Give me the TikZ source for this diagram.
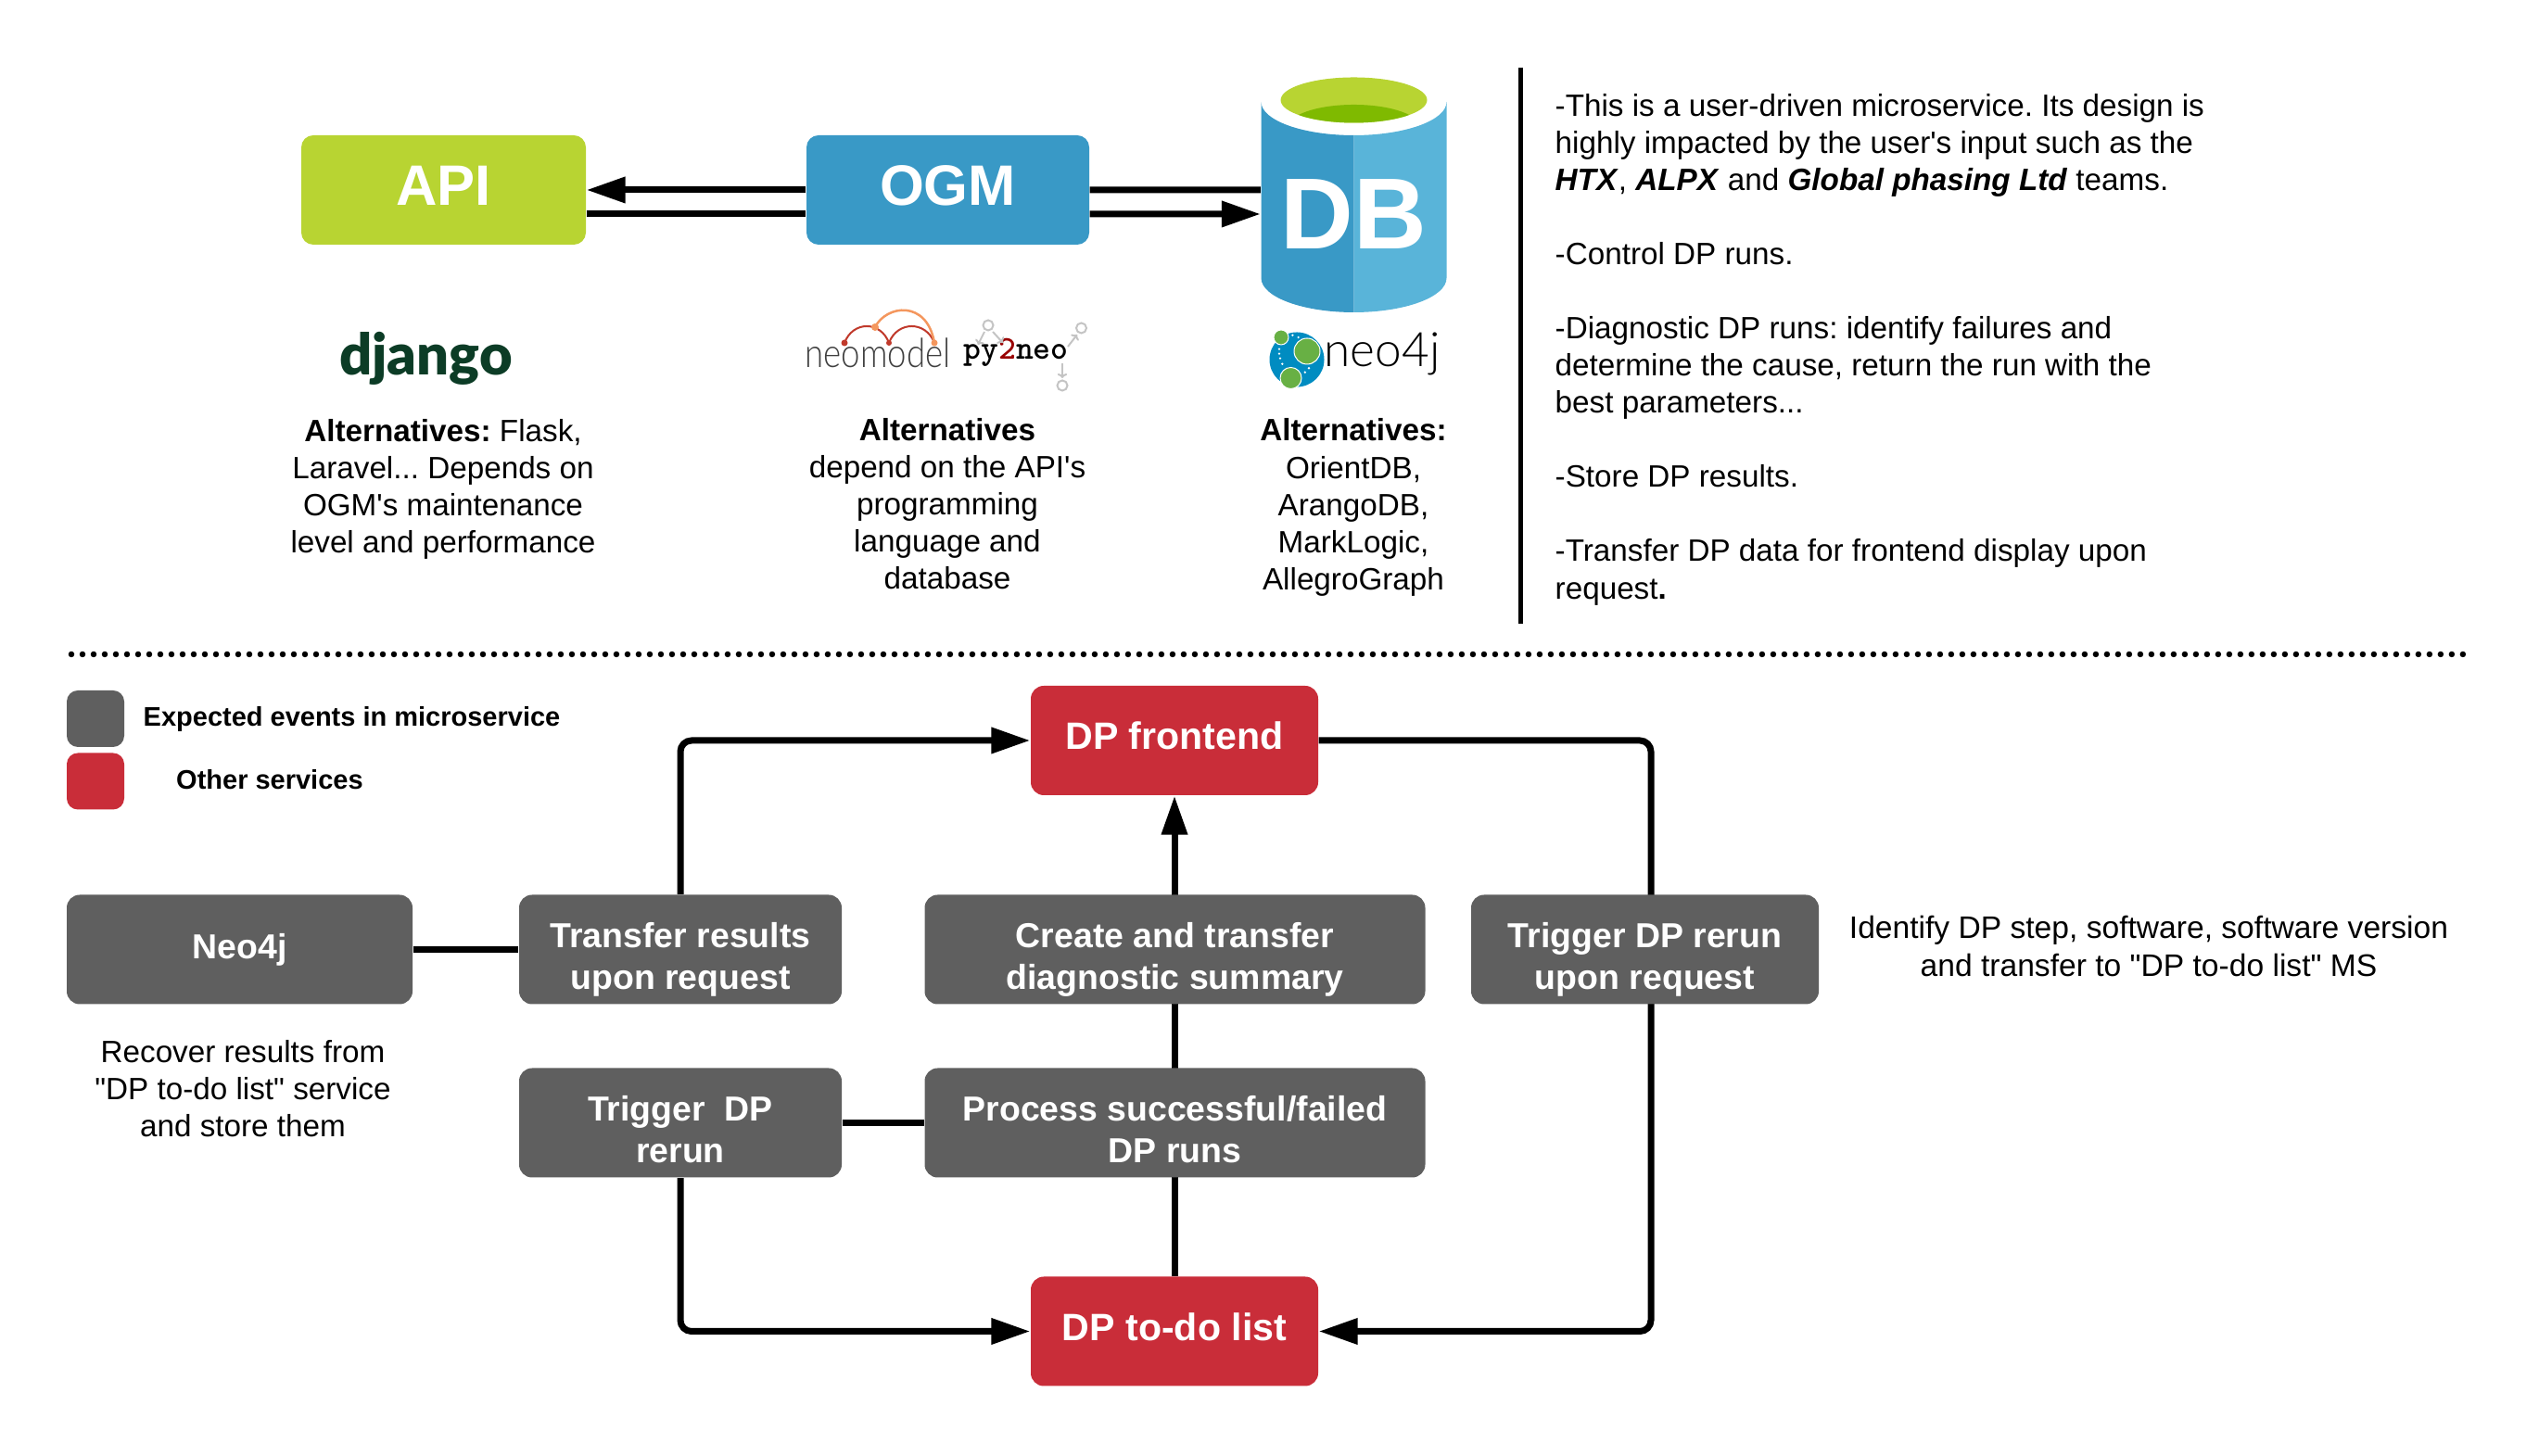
\documentclass[tikz,border=0pt]{standalone}
\usepackage{fontspec}
\setmainfont{Liberation Sans}
\frenchspacing
\newfontfamily\logofont{Lato}[UprightFont=* Black]
\newfontfamily\logolight{Lato}[UprightFont=* Light]
\usepackage{tikz}
\usetikzlibrary{arrows.meta,backgrounds}
\definecolor{apigreen}{HTML}{B8D432}
\definecolor{darkgreen}{HTML}{7FBA00}
\definecolor{ogmblue}{HTML}{3999C6}
\definecolor{lightblue}{HTML}{59B4D9}
\definecolor{eventgray}{HTML}{5F5F5F}
\definecolor{servicered}{HTML}{C92D39}
\definecolor{djangogreen}{HTML}{0C3C26}
\definecolor{neoblue}{HTML}{008CC1}
\definecolor{neogreen}{HTML}{68B044}
\definecolor{neored}{HTML}{C0392B}
\definecolor{neoorange}{HTML}{F4975E}
\definecolor{graphgray}{HTML}{C4C4C4}
\tikzset{
    topbox/.style={rounded corners=0.13cm, minimum height=1.18cm, text=white, text height=0.46cm, text depth=0.12cm,
        font=\fontsize{17.5}{20}\selectfont\bfseries},
    eventbox/.style={fill=eventgray, rounded corners=0.14cm, minimum height=1.18cm, inner sep=0pt, text=white, align=center,
        font=\fontsize{10.65}{12.9}\selectfont\bfseries},
    twolines/.style={text height=0.95cm, text depth=0.09cm},
    servicebox/.style={eventbox, fill=servicered, minimum width=3.10cm, text height=0.31cm, text depth=0.11cm,
        font=\fontsize{11.7}{13}\selectfont\bfseries},
    legendbox/.style={rounded corners=0.12cm, minimum width=0.62cm, minimum height=0.61cm},
    legendtext/.style={anchor=west, font=\fontsize{8.25}{11}\selectfont\bfseries},
    plaintext/.style={align=center, font=\fontsize{9.46}{11.4}\selectfont},
    link/.style={line width=0.07cm, rounded corners=0.12cm},
    linkarrow/.style={link, -{Triangle[length=0.42cm,width=0.27cm]}},
    graphlink/.style={graphgray, line width=0.02cm, -{To[length=0.05cm]}},
}
\begin{document}
\begin{tikzpicture}
    \useasboundingbox (0,0) rectangle (27.39,15.71);
    % top row
    \node [topbox, fill=apigreen, minimum width=3.07cm] (api) at (4.785,13.66) {API};
    \node [topbox, fill=ogmblue, minimum width=3.05cm] (ogm) at (10.225,13.66) {OGM};
    \fill [ogmblue] (13.605,14.61) -- (13.605,12.71) arc (180:270:1 and 0.37) -- (14.605,14.25) arc (270:180:1 and 0.36) -- cycle;
    \fill [lightblue] (15.605,14.61) -- (15.605,12.71) arc (0:-90:1 and 0.37) -- (14.605,14.25) arc (270:360:1 and 0.36) -- cycle;
    \fill [apigreen] (14.605,14.63) ellipse (0.79 and 0.245);
    \begin{scope}
        \clip (14.605,14.63) ellipse (0.79 and 0.245);
        \fill [darkgreen] (14.605,14.33) ellipse (0.72 and 0.25);
    \end{scope}
    \node [text=white, minimum width=2cm, inner sep=0pt, font=\fontsize{31}{31}\selectfont\bfseries] (db) at (14.605,13.40) {DB};
    \draw [linkarrow] (ogm.west) -- (api.east);
    \draw [link] ([yshift=-0.26cm]api.east) -- ([yshift=-0.26cm]ogm.west);
    \draw [link] (ogm.east) -- ([yshift=0.26cm]db.west);
    \draw [linkarrow] ([yshift=-0.26cm]ogm.east) -- (db.west);

    % logos
    \node [anchor=base, text=djangogreen, font=\logofont\fontsize{17.5}{18}\selectfont] (django) at (4.595,11.66) {django};
    \node [anchor=base, text=black!75, xscale=0.84, font=\logolight\fontsize{12.4}{12.4}\selectfont] (neomodel) at (9.47,11.74) {neomodel};
    \draw [neored, line width=0.02cm] (9.11,12.01) .. controls (9.2,12.25) and (9.5,12.25) .. (9.59,12.01);
    \draw [neored, line width=0.02cm] (9.59,12.01) .. controls (9.68,12.25) and (9.99,12.25) .. (10.08,12.01);
    \draw [neoorange, line width=0.025cm] (9.44,12.18) .. controls (9.56,12.42) and (10.0,12.48) .. (10.08,12.01);
    \fill [neored] (9.11,12.01) circle (0.035) (9.59,12.01) circle (0.03);
    \fill [neoorange] (10.08,12.01) circle (0.035) (9.44,12.18) circle (0.04);
    \node [anchor=base west, inner sep=0pt, font=\ttfamily\fontsize{10.2}{10}\selectfont\bfseries] (py2neo) at (10.39,11.83) {py\textcolor{red!60!black}{2}neo};
    \foreach \x/\y in {10.66/12.20, 11.665/12.17, 11.46/11.55}
        \draw [graphgray, line width=0.02cm] (\x,\y) circle (0.055);
    \draw [graphlink] (10.62,12.13) -- (10.55,11.99);
    \draw [graphlink] (10.71,12.13) -- (10.82,12.01);
    \draw [graphlink] (11.52,11.97) -- (11.62,12.10);
    \draw [graphlink] (11.46,11.79) -- (11.46,11.63);
    \fill [neoblue] (13.99,11.83) circle (0.295);
    \foreach \x/\y in {13.944/12.093, 14.006/12.07, 13.80/11.943, 13.80/11.893, 13.81/11.843, 13.833/11.783, 13.896/11.727, 14.12/11.737, 14.078/11.693}
        \fill [white] (\x,\y) circle (0.013);
    \foreach \x/\y/\r in {13.82/12.07/0.08, 14.10/11.92/0.14, 13.925/11.63/0.115}
        \draw [white, fill=neogreen, line width=0.01cm] (\x,\y) circle (\r);
    \node [anchor=base west, inner sep=0pt, font=\logolight\fontsize{14.6}{14}\selectfont] (neofour) at (14.28,11.75) {neo4j};

    % alternatives
    \node [plaintext] (apitext) at (4.78,10.43) {\textbf{Alternatives:} Flask,\\Laravel... Depends on\\OGM\textquotesingle s maintenance\\level and performance};
    \node [plaintext] (ogmtext) at (10.22,10.275) {\textbf{Alternatives}\\depend on the API\textquotesingle s\\programming\\language and\\database};
    \node [plaintext] (dbtext) at (14.60,10.235) {\textbf{Alternatives:}\\OrientDB,\\ArangoDB,\\MarkLogic,\\AllegroGraph};
    \draw [line width=0.05cm] (16.40,14.98) -- (16.40,8.98);
    \node [plaintext, align=left, anchor=west, inner sep=0pt] (notes) at (16.77,11.94) {-This is a user-driven microservice. Its design is\\highly impacted by the user\textquotesingle s input such as the\\\textbf{\textit{HTX}}, \textbf{\textit{ALPX}} and \textbf{\textit{Global phasing Ltd}} teams.\\[\baselineskip]-Control DP runs.\\[\baselineskip]-Diagnostic DP runs: identify failures and\\determine the cause, return the run with the\\best parameters...\\[\baselineskip]-Store DP results.\\[\baselineskip]-Transfer DP data for frontend display upon\\request\textbf{.}};
    \draw [line width=0.065cm, line cap=round, dash pattern=on 0cm off 0.12cm] (0.77,8.65) -- (26.65,8.65);

    % legend
    \node [legendbox, fill=eventgray] (legendevent) at (1.03,7.955) {};
    \node [legendbox, fill=servicered] (legendservice) at (1.03,7.28) {};
    \node [legendtext, inner sep=0pt] (eventtext) at (1.54,7.945) {Expected events in microservice};
    \node [legendtext, inner sep=0pt] (servicetext) at (1.895,7.295) {Other services};

    % events
    \node [servicebox] (frontend) at (12.67,7.72) {DP frontend};
    \node [servicebox] (todo) at (12.67,1.345) {DP to-do list};
    \node [eventbox, minimum width=3.73cm] (neo) at (2.585,5.465) {Neo4j};
    \node [eventbox, twolines, minimum width=3.48cm] (transfer) at (7.34,5.465) {Transfer results\\upon request};
    \node [eventbox, twolines, minimum width=5.40cm] (summary) at (12.675,5.465) {Create and transfer\\diagnostic summary};
    \node [eventbox, twolines, minimum width=3.75cm] (rerunrequest) at (17.745,5.465) {Trigger DP rerun\\upon request};
    \node [eventbox, twolines, minimum width=3.48cm] (rerun) at (7.34,3.595) {Trigger\ \ DP\\rerun};
    \node [eventbox, twolines, minimum width=5.40cm] (process) at (12.675,3.595) {Process successful/failed\\DP runs};
    \coordinate (rerunline) at (17.81,5.465);
    \begin{scope}[on background layer]
        \draw [link] (neo) -- (transfer);
        \draw [linkarrow] (transfer.north) |- (frontend.west);
        \draw [linkarrow] (todo.north) -- (frontend.south);
        \draw [linkarrow] (frontend.east) -| (rerunline) |- (todo.east);
        \draw [link] (rerun) -- (process);
        \draw [linkarrow] (rerun.south) |- (todo.west);
    \end{scope}
    \node [plaintext] (neotext) at (2.62,3.965) {Recover results from\\\textquotedbl DP to-do list\textquotedbl\ service\\and store them};
    \node [plaintext, font=\fontsize{9.56}{11.4}\selectfont] (identify) at (23.18,5.50) {Identify DP step, software, software version\\and transfer to \textquotedbl DP to-do list\textquotedbl\ MS};
\end{tikzpicture}
\end{document}
